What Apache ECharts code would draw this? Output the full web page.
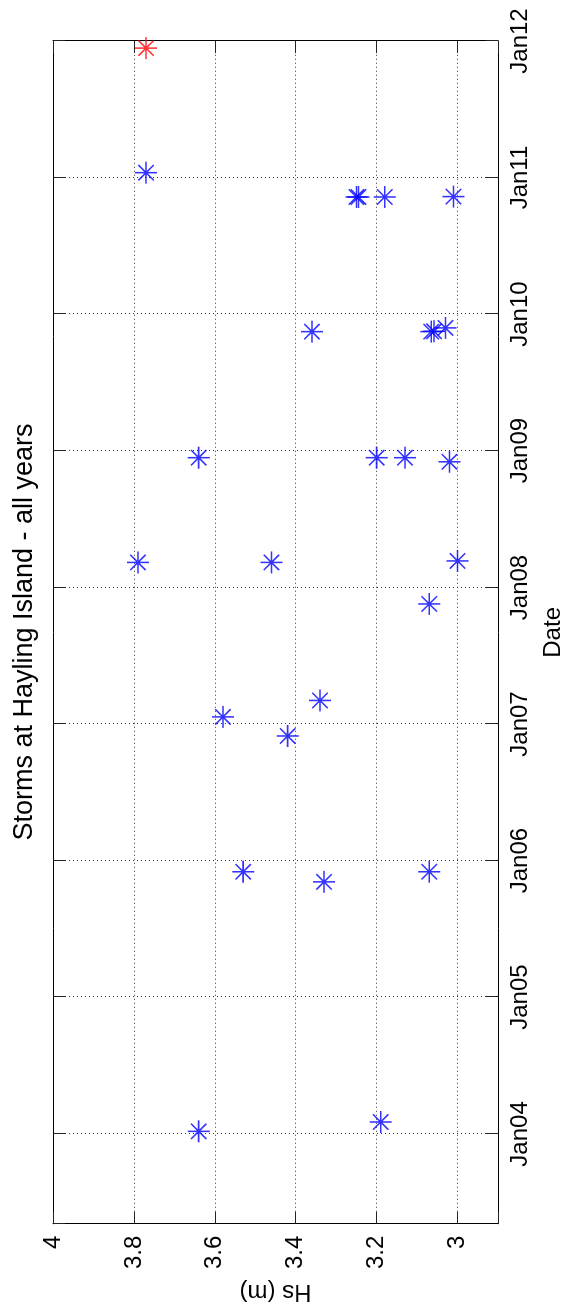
<!DOCTYPE html>
<html><head><meta charset="utf-8">
<script src="https://cdn.jsdelivr.net/npm/echarts@6/dist/echarts.min.js"></script>
<style>
html,body{margin:0;padding:0;background:#fff;overflow:hidden;width:570px;height:1312px;}
#chart{position:absolute;left:0;top:0;width:1312px;height:570px;transform-origin:0 0;transform:translateY(1312px) rotate(-90deg);}
</style></head><body><div id="chart"></div>
<script>
const titleText = 'Storms at Hayling Island - all years';
const xAxisName = 'Date';
const yAxisName = 'Hs (m)';
const dateMin = '2003-05-06';
const dateMax = '2012-01-01';
const hsMin = 2.9, hsMax = 4;

const stormDates = [
  '2004-01-08','2004-02-02',
  '2005-11-05','2005-12-02','2005-12-02',
  '2006-11-30','2007-01-20','2007-03-05',
  '2007-11-18','2008-03-08','2008-03-08','2008-03-12',
  '2008-12-02','2008-12-13','2008-12-13','2008-12-13',
  '2009-11-15','2009-11-15','2009-11-16','2009-11-25',
  '2010-11-10','2010-11-10','2010-11-10','2010-11-11',
  '2011-01-14'
];
const stormHs = [
  3.64, 3.19,
  3.33, 3.53, 3.07,
  3.42, 3.58, 3.34,
  3.07, 3.79, 3.46, 3.00,
  3.02, 3.64, 3.20, 3.13,
  3.36, 3.065, 3.058, 3.03,
  3.25, 3.245, 3.18, 3.01,
  3.77
];
const latestDates = ['2011-12-13'];
const latestHs = [3.77];

const FONT = '"Liberation Sans", Arial, Helvetica, sans-serif';
const STAR = 'path://M0 46.5H100V53.5H0Z M46.5 0H53.5V100H46.5Z ' +
  'M17.5 12.5L87.5 82.5L82.5 87.5L12.5 17.5Z ' +
  'M87.5 17.5L17.5 87.5L12.5 82.5L82.5 12.5Z M43 43H57V57H43Z';

function pairs(ds, vs) { return ds.map((d, i) => [d, vs[i]]); }

function janLabel(v) {
  const d = new Date(v);
  if (d.getMonth() !== 0 || d.getDate() !== 1) return '';
  return 'Jan' + String(d.getFullYear()).slice(2);
}

const chart = echarts.init(document.getElementById('chart'), null, {renderer: 'canvas'});
const tickStyle = {show: true, inside: true, length: 12, lineStyle: {color: '#222', width: 1}};
const axisLine = {show: true, onZero: false, lineStyle: {color: '#000', width: 1}};
const gridLine = {show: true, lineStyle: {color: '#333', width: 1, type: [1, 3]}};
const YEAR = 365 * 24 * 3600 * 1000;

chart.setOption({
  animation: false,
  backgroundColor: '#fff',
  grid: {left: 68, right: 41, top: 53, bottom: 63, containLabel: false},
  graphic: [{
    type: 'text', x: 680, y: 38,
    style: {text: titleText, font: '27px ' + FONT, fill: '#000', textAlign: 'center', textVerticalAlign: 'bottom'}
  }],
  xAxis: [{
    type: 'time', position: 'bottom', min: dateMin, max: dateMax,
    minInterval: YEAR, maxInterval: YEAR,
    axisLine: axisLine, axisTick: tickStyle, splitLine: gridLine,
    axisLabel: {formatter: janLabel, fontSize: 24, fontFamily: FONT, color: '#000', margin: 10,
      hideOverlap: false, showMaxLabel: true, showMinLabel: false},
    name: xAxisName, nameLocation: 'middle', nameGap: 43,
    nameTextStyle: {fontSize: 24, fontFamily: FONT, color: '#000'}
  }, {
    type: 'time', position: 'top', min: dateMin, max: dateMax,
    minInterval: YEAR, maxInterval: YEAR,
    axisLine: axisLine, axisTick: tickStyle, splitLine: {show: false}, axisLabel: {show: false}
  }],
  yAxis: [{
    type: 'value', position: 'left', min: hsMin, max: hsMax,
    axisLine: axisLine, axisTick: tickStyle, splitLine: gridLine,
    axisLabel: {
      formatter: v => (Math.abs(v - hsMin) < 1e-6 ? '' : String(Math.round(v * 10) / 10)),
      fontSize: 24, fontFamily: FONT, color: '#000', margin: 12, showMaxLabel: true
    },
    name: yAxisName, nameLocation: 'middle', nameGap: 46, nameRotate: 90,
    nameTextStyle: {fontSize: 24, fontFamily: FONT, color: '#000'}
  }, {
    type: 'value', position: 'right', min: hsMin, max: hsMax,
    axisLine: axisLine, axisTick: tickStyle, splitLine: {show: false}, axisLabel: {show: false}
  }],
  series: [{
    type: 'scatter', xAxisIndex: 0, yAxisIndex: 0,
    symbol: STAR, symbolSize: 22,
    itemStyle: {color: '#0000ff'},
    data: pairs(stormDates, stormHs)
  }, {
    type: 'scatter', xAxisIndex: 0, yAxisIndex: 0,
    symbol: STAR, symbolSize: 22,
    itemStyle: {color: '#ff0000'},
    data: pairs(latestDates, latestHs)
  }]
});
</script></body></html>
